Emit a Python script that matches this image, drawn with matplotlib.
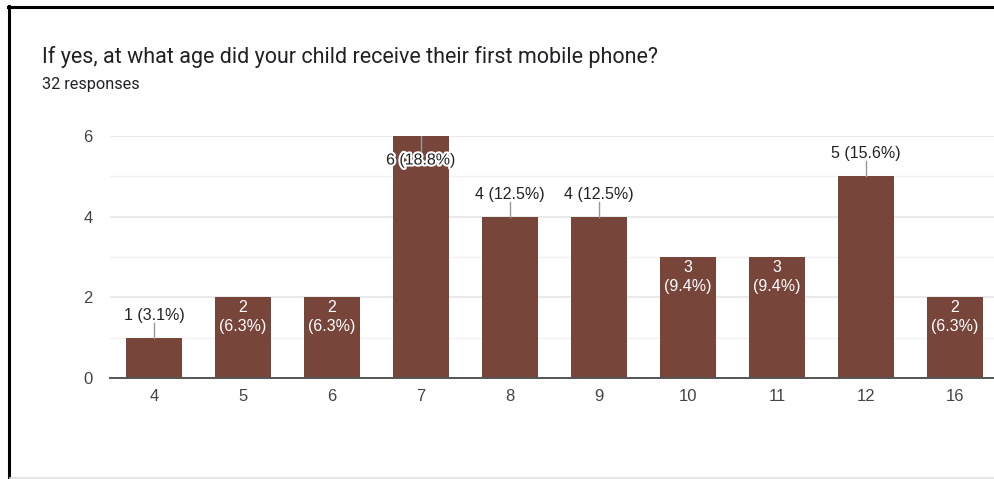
import matplotlib
matplotlib.use("Agg")
import matplotlib.pyplot as plt
import matplotlib.patheffects as pe
from matplotlib.lines import Line2D

plt.rcParams['font.family'] = ['Liberation Sans', 'DejaVu Sans']

ages = ["4", "5", "6", "7", "8", "9", "10", "11", "12", "16"]
counts = [1, 2, 2, 6, 4, 4, 3, 3, 5, 2]
percents = ["3.1%", "6.3%", "6.3%", "18.8%", "12.5%", "12.5%", "9.4%", "9.4%", "15.6%", "6.3%"]
# where each value label goes: above the bar, inside (two lines), or inside top with halo
label_mode = ["above", "inside", "inside", "top", "above", "above", "inside", "inside", "above", "inside"]

title = "If yes, at what age did your child receive their first mobile phone?"
subtitle = "32 responses"

W, H = 994, 479
fig = plt.figure(figsize=(W / 100, H / 100), dpi=100)
fig.patch.set_facecolor("white")

bar_color = "#78453b"
text_dark = "#222222"
label_size = 11.5

ax = fig.add_axes([109.5 / W, 101 / H, 890 / W, 242 / H])
x = list(range(len(ages)))
ax.bar(x, counts, width=0.62, color=bar_color, zorder=3)

ax.set_xlim(-0.5, len(ages) - 0.5)
ax.set_ylim(0, 6)
ax.set_yticks([0, 2, 4, 6])
ax.set_yticks([1, 3, 5], minor=True)
ax.set_xticks(x)
ax.set_xticklabels(ages)
ax.grid(axis="y", which="major", color="#e6e6e6", linewidth=1.2, zorder=0)
ax.grid(axis="y", which="minor", color="#f2f2f2", linewidth=1.0, zorder=0)
for s in ["top", "right", "left"]:
    ax.spines[s].set_visible(False)
ax.spines["bottom"].set_color("#555555")
ax.spines["bottom"].set_linewidth(1.4)
ax.spines["bottom"].set_zorder(4)
ax.tick_params(axis="both", which="both", length=0, labelsize=12, colors="#444444")
ax.tick_params(axis="x", pad=8)
ax.tick_params(axis="y", pad=12)

px = 6.0 / 242  # data units per pixel vertically
for xi, c, p, mode in zip(x, counts, percents, label_mode):
    if mode == "above":
        ax.plot([xi, xi], [c, c + 15 * px], color="#999999", lw=1, zorder=4, clip_on=False)
        ax.text(xi, c + 15 * px, f"{c} ({p})", ha="center", va="bottom",
                fontsize=label_size, color=text_dark, zorder=5, clip_on=False)
    elif mode == "inside":
        ax.text(xi, c - 3 * px, f"{c}\n({p})", ha="center", va="top",
                fontsize=label_size, color="white", linespacing=1.3, zorder=5)
    else:
        ax.plot([xi, xi], [c, c - 16 * px], color="#999999", lw=1, zorder=4)
        ax.text(xi, c - 24 * px, f"{c} ({p})", ha="center", va="center",
                fontsize=label_size, color=text_dark, zorder=5,
                path_effects=[pe.withStroke(linewidth=3, foreground="white")])

fig.text(42 / W, 1 - 57 / H, title, ha="left", va="center", fontsize=15.5,
         color="#202124", family=["Roboto", "DejaVu Sans"])
fig.text(42 / W, 1 - 84 / H, subtitle, ha="left", va="center", fontsize=11.7,
         color="#202124", family=["Roboto", "DejaVu Sans"])

# card frame
fig.add_artist(Line2D([9 / W, 9 / W], [0, 1 - 6 / H], color="black", lw=2.2))
fig.add_artist(Line2D([8 / W, 1], [1 - 6.5 / H, 1 - 6.5 / H], color="black", lw=2.2))
fig.add_artist(Line2D([10 / W, 1], [1.5 / H, 1.5 / H], color="#e0e0e0", lw=1.2))

fig.savefig("out.png", dpi=100, facecolor="white")
